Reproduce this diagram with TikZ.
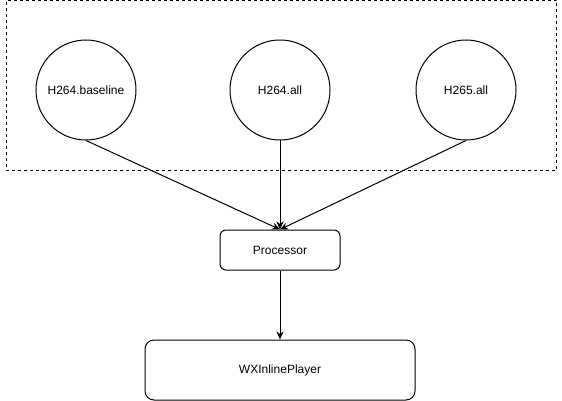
\documentclass[tikz,border=0pt]{standalone}
\usepackage{fontspec}
\setmainfont{Liberation Sans}
\usetikzlibrary{arrows.meta}
\begin{document}
\begin{tikzpicture}[x=1pt,y=-1pt,line width=1pt,
  src/.style={draw,circle,minimum size=100pt,inner sep=0pt,font=\fontsize{12}{14}\selectfont},
  box/.style={draw,rectangle,inner sep=0pt,font=\fontsize{12}{14}\selectfont},
  arr/.style={-{Stealth[length=8pt,width=7pt,inset=2.5pt]}}]
\useasboundingbox (0,0) rectangle (562,401);
\node[draw,dash pattern=on 3pt off 3pt,rectangle,minimum width=550.5pt,minimum height=169.5pt,inner sep=0pt] (grp) at (281.25,85.25) {};
\node[src] (a) at (86,90) {H264.baseline};
\node[src] (b) at (280,90) {H264.all};
\node[src] (c) at (466,90) {H265.all};
\node[box,minimum width=120pt,minimum height=40pt,rounded corners=6pt] (p) at (280,250) {Processor};
\node[box,minimum width=270pt,minimum height=60pt,rounded corners=9pt] (w) at (280,370) {WXInlinePlayer};
\draw[arr] (a.south) -- (p.north);
\draw[arr] (b.south) -- (p.north);
\draw[arr] (c.south) -- (p.north);
\draw[arr] (p.south) -- (w.north);
\end{tikzpicture}
\end{document}
